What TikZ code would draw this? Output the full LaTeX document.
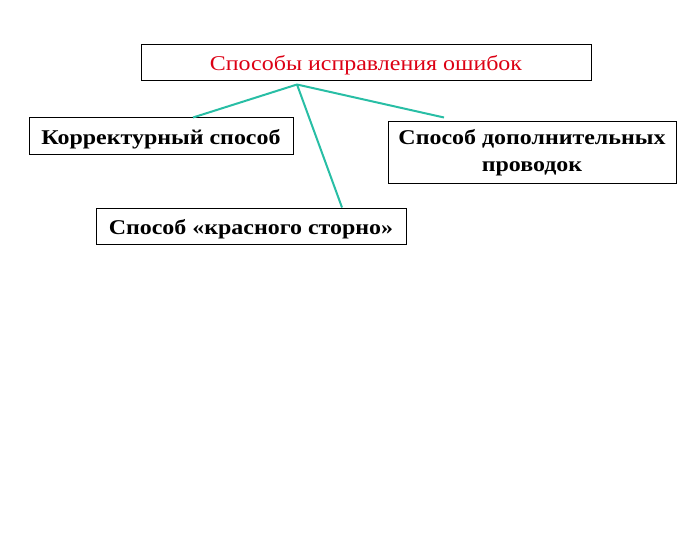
\documentclass[tikz,border=0pt]{standalone}
\usepackage{fontspec}
\setmainfont{Liberation Serif}[FakeStretch=1.14]
\definecolor{linkcol}{RGB}{40,190,165}
\definecolor{titlecol}{RGB}{220,0,20}
\tikzset{
  box/.style={draw,line width=1pt,inner sep=0pt,align=center,font=\fontsize{21}{27}\selectfont\bfseries},
  oneline/.style={text height=16pt,text depth=0pt},
  link/.style={linkcol,line width=2pt}
}
\begin{document}
\begin{tikzpicture}[x=1pt,y=-1pt]
	\useasboundingbox (0,0) rectangle (687,540);

	%boxes
	\node [box,oneline,font=\fontsize{21}{27}\selectfont,text=titlecol,minimum width=450,minimum height=36] (title) at (366,63) {Способы исправления ошибок};
	\node [box,oneline,minimum width=264,minimum height=37] (korr) at (161,136.5) {Корректурный способ};
	\node [box,minimum width=288,minimum height=61] (dop) at (532,152.5) {Способ дополнительных\\проводок};
	\node [box,oneline,minimum width=310,minimum height=36] (storno) at (251,226) {Способ «красного сторно»};

	%connectors
	\coordinate (hub) at ([xshift=-69pt,yshift=-3pt]title.south);
	\draw [link] (hub) -- ([xshift=32pt]korr.north);
	\draw [link] (hub) -- ([xshift=-88pt,yshift=4pt]dop.north);
	\draw [link] (hub) -- ([xshift=91pt]storno.north);
\end{tikzpicture}
\end{document}
